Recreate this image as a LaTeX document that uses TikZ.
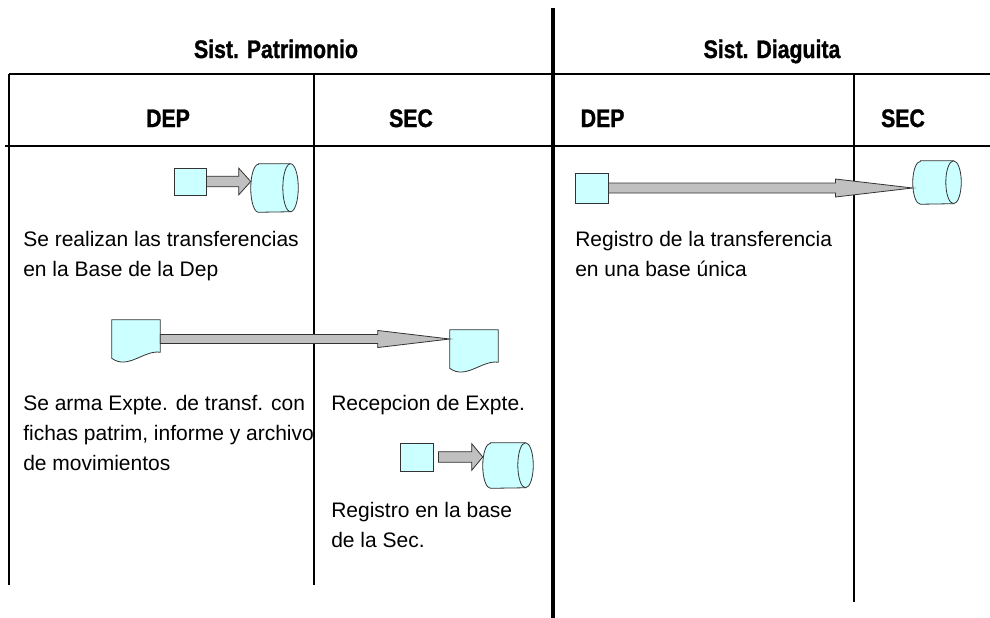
\documentclass[tikz,border=0pt]{standalone}
\usepackage{fontspec}
\setmainfont{Liberation Sans}
\newfontfamily\headfont[FakeStretch=0.84, FakeBold=1.2]{Liberation Sans Bold}
\usetikzlibrary{calc}
\definecolor{boxcyan}{HTML}{CCFFFF}
\definecolor{arrowgray}{HTML}{C0C0C0}
\definecolor{edgegray}{HTML}{333333}
\tikzset{x=0.75pt, y=-0.75pt,
lane/.style={line width=0.9pt},
divider/.style={line width=3.4pt},
title/.style={
font=\headfont\fontsize{19}{21}\selectfont,
anchor=base},
note/.style={
font=\fontsize{15.75}{22.5}\selectfont,
align=left, anchor=base west, inner sep=0pt},
record/.style={
draw=edgegray, fill=boxcyan, semithick, inner sep=0pt},
shapebox/.style={inner sep=0pt, minimum width=36pt, minimum height=28.5pt},
flow/.style={
draw=edgegray, fill=arrowgray, semithick}}
\newcommand\docnode[2]{%
\node[shapebox] (#1) at (#2) {};
\draw[record] (#1.south west) -- (#1.north west) -- (#1.north east)
  -- ([yshift=4.5pt]#1.south east) .. controls +(-12pt,2pt) and +(12pt,-9pt) .. (#1.south west) -- cycle;}
\newcommand\storenode[4]{% name, position, length, half height
\node[shapebox, minimum width=#3, minimum height=2*#4] (#1) at (#2) {};
\draw[record] ([xshift=5.8pt]#1.north west) -- ([xshift=-5.8pt]#1.north east)
  arc[start angle=90, end angle=-90, x radius=5.8pt, y radius=#4]
  -- ([xshift=5.8pt]#1.south west)
  arc[start angle=270, end angle=90, x radius=5.8pt, y radius=#4] -- cycle;
\draw[record, fill=none] ([xshift=-5.8pt]#1.north east)
  arc[start angle=90, end angle=270, x radius=5.8pt, y radius=#4];}
\newcommand\flowarrow[5]{%
\draw[flow] ($(#1)+(0,#5)$) -- ($(#2)+(-#3,#5)$) -- ($(#2)+(-#3,#4)$) -- (#2)
  -- ($(#2)+(-#3,-#4)$) -- ($(#2)+(-#3,-#5)$) -- ($(#1)+(0,-#5)$) -- cycle;}

\begin{document}
\begin{tikzpicture}
\useasboundingbox (0,0) rectangle (990,618);
\draw[lane] (9,74) -- (990,74);
\draw[lane] (5,146) -- (990,146);
\draw[lane] (9,74) -- (9,585);
\draw[lane] (314,74) -- (314,585);
\draw[lane] (854,74) -- (854,602);
\draw[divider] (553,8) -- (553,618);

\node[title] (patr) at (276,58) {Sist. Patrimonio};
\node[title] (diag) at (772,58) {Sist. Diaguita};
\node[title] (depA) at (168,127) {DEP};
\node[title] (secA) at (411,127) {SEC};
\node[title, anchor=base west] (depB) at (576,127) {DEP};
\node[title] (secB) at (903,127) {SEC};

\node[record, minimum width=24pt, minimum height=20.25pt] (s1) at (190,181.5) {};
\storenode{c1}{274.5,188}{35.25pt}{18pt}
\node[record, minimum width=24.75pt, minimum height=22.5pt] (s2) at (591.5,188) {};
\storenode{c2}{937,182.5}{36pt}{16.1pt}
\node[record, minimum width=24.75pt, minimum height=21pt] (s3) at (416.5,457) {};
\storenode{c3}{508,465.5}{37.5pt}{16.9pt}
\docnode{d1}{136,339}
\docnode{d2}{474,349}

\coordinate (tip1) at (s1.east -| c1.west);
\coordinate (tip2) at (s2.east -| c2.west);
\coordinate (tip3) at (d1.east -| d2.west);
\coordinate (tail4) at ([xshift=3.75pt]s3.east);
\coordinate (tip4) at (s3.east -| c3.west);
\flowarrow{s1.east}{tip1}{9pt}{10pt}{4pt}
\flowarrow{s2.east}{tip2}{58pt}{6.75pt}{3.75pt}
\flowarrow{d1.east}{tip3}{54pt}{6.4pt}{3.4pt}
\flowarrow{tail4}{tip4}{8.25pt}{10pt}{4pt}

\node[note] (t1) at (23,276) {Se realizan las transferencias\\en la Base de la Dep};
\node[note] (t2) at (575,276) {Registro de la transferencia\\en una base única};
\node[note] (t3) at (23,470) {Se arma Expte. de transf. con\\fichas patrim, informe y archivo\\de movimientos};
\node[note] (t4) at (331,410) {Recepcion de Expte.};
\node[note] (t5) at (331,547) {Registro en la base\\de la Sec.};
\end{tikzpicture}
\end{document}
